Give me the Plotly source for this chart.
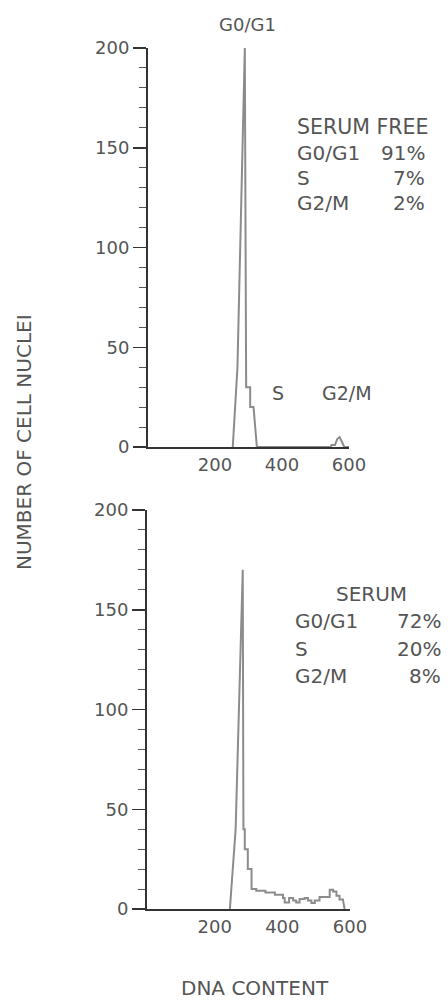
import plotly.graph_objects as go

# ---------------- data ----------------
x_ticks = [200, 400, 600]
y_ticks = [0, 50, 100, 150, 200]

# SERUM FREE histogram
top_spike_x = [253, 267, 289, 291]
top_spike_y = [0, 40, 200, 40]
top_step_edges = [291, 293, 305, 315]
top_step_vals = [40, 30, 20]
top_tail_x = [325, 545, 548, 558, 565, 572, 580, 586, 600]
top_tail_y = [0, 0, 1, 1, 4, 5, 2, 0, 0]

# SERUM histogram
bot_spike_x = [245, 262, 283, 285]
bot_spike_y = [0, 40, 170, 40]
bot_step_edges = [285, 289, 298, 309, 323, 350, 378, 402, 407, 420, 432, 441,
                  451, 466, 476, 486, 496, 510, 540, 550, 560, 569, 579]
bot_step_vals = [40, 30, 20, 10, 9.2, 8.3, 7.2, 5.5, 3.3, 5.5, 4.3, 3.3,
                 5, 5.5, 4.3, 3, 4.3, 6, 9.7, 8.8, 6.7, 4.7]
bot_tail_x = [584]
bot_tail_y = [0]

phases = ["G0/G1", "S", "G2/M"]
top_pct = ["91%", "7%", "2%"]
bot_pct = ["72%", "20%", "8%"]


def stepped(edges, vals):
    xs, ys = [], []
    for i, v in enumerate(vals):
        xs += [edges[i], edges[i + 1]]
        ys += [v, v]
    return xs, ys


tsx, tsy = stepped(top_step_edges, top_step_vals)
bsx, bsy = stepped(bot_step_edges, bot_step_vals)
top_x = top_spike_x + tsx + top_tail_x
top_y = top_spike_y + tsy + top_tail_y
bot_x = bot_spike_x + bsx + bot_tail_x
bot_y = bot_spike_y + bsy + bot_tail_y

# ---------------- figure ----------------
W, H = 448, 1002
FONT = "DejaVu Sans"
TXT = "#555555"
AX = "#333333"
HIST = "#8c8c8c"


def px(x):
    return x / W


def py(y):
    return 1 - y / H


fig = go.Figure()
fig.add_trace(go.Scatter(x=top_x, y=top_y, mode="lines", xaxis="x", yaxis="y",
                         line=dict(color=HIST, width=2), hoverinfo="skip"))
fig.add_trace(go.Scatter(x=bot_x, y=bot_y, mode="lines", xaxis="x2", yaxis="y2",
                         line=dict(color=HIST, width=2), hoverinfo="skip"))

xcommon = dict(range=[0, 600], showline=True, linecolor=AX, linewidth=2,
               showgrid=False, zeroline=False, ticks="", tickvals=x_ticks,
               tickfont=dict(family=FONT, size=18, color=TXT), automargin=False,
               fixedrange=True)
ycommon = dict(range=[0, 200], showline=True, linecolor=AX, linewidth=2,
               showgrid=False, zeroline=False, ticks="outside", ticklen=13,
               tickwidth=1.5, tickcolor=AX, tickvals=y_ticks,
               tickfont=dict(family=FONT, size=18, color=TXT), automargin=False,
               minor=dict(dtick=10, ticks="outside", ticklen=7, tickwidth=1,
                          tickcolor="#555555", showgrid=False),
               fixedrange=True)

fig.update_layout(
    width=W, height=H,
    margin=dict(l=0, r=0, t=0, b=0),
    paper_bgcolor="white", plot_bgcolor="white",
    showlegend=False,
    xaxis=dict(domain=[px(148), px(349)], anchor="y", **xcommon),
    yaxis=dict(domain=[py(447), py(48)], anchor="x", **ycommon),
    xaxis2=dict(domain=[px(147), px(350)], anchor="y2", **xcommon),
    yaxis2=dict(domain=[py(909), py(510)], anchor="x2", **ycommon),
)

ann = []


def text(t, x, y, size=20, xanchor="center", angle=0):
    ann.append(dict(text=t, x=px(x), y=py(y), xref="paper", yref="paper",
                    xanchor=xanchor, yanchor="middle", showarrow=False,
                    textangle=angle, font=dict(family=FONT, size=size, color=TXT)))


# peak labels (top)
text("G0/G1", 247, 25, size=18)
text("S", 278, 393, size=19)
text("G2/M", 347, 393, size=19)

# top stats
text("SERUM FREE", 295, 127, size=20.5, xanchor="left")
for i, (ph, pc) in enumerate(zip(phases, top_pct)):
    yy = 153 + 25 * i
    text(ph, 295, yy, xanchor="left")
    text(pc, 427, yy, xanchor="right")

# bottom stats
text("SERUM", 371, 594)
for i, (ph, pc) in enumerate(zip(phases, bot_pct)):
    yy = 621 + 27.5 * i
    text(ph, 293, yy, xanchor="left")
    text(pc, 443, yy, xanchor="right")

# axis titles
text("NUMBER OF CELL NUCLEI", 24, 442, size=20, angle=-90)
text("DNA CONTENT", 255, 988, size=20)

fig.update_layout(annotations=ann)
fig.write_html("out.html",
               config={"displayModeBar": False, "staticPlot": True},
               post_script="document.body.style.margin='0px';"
                           "document.body.style.overflow='hidden';")
